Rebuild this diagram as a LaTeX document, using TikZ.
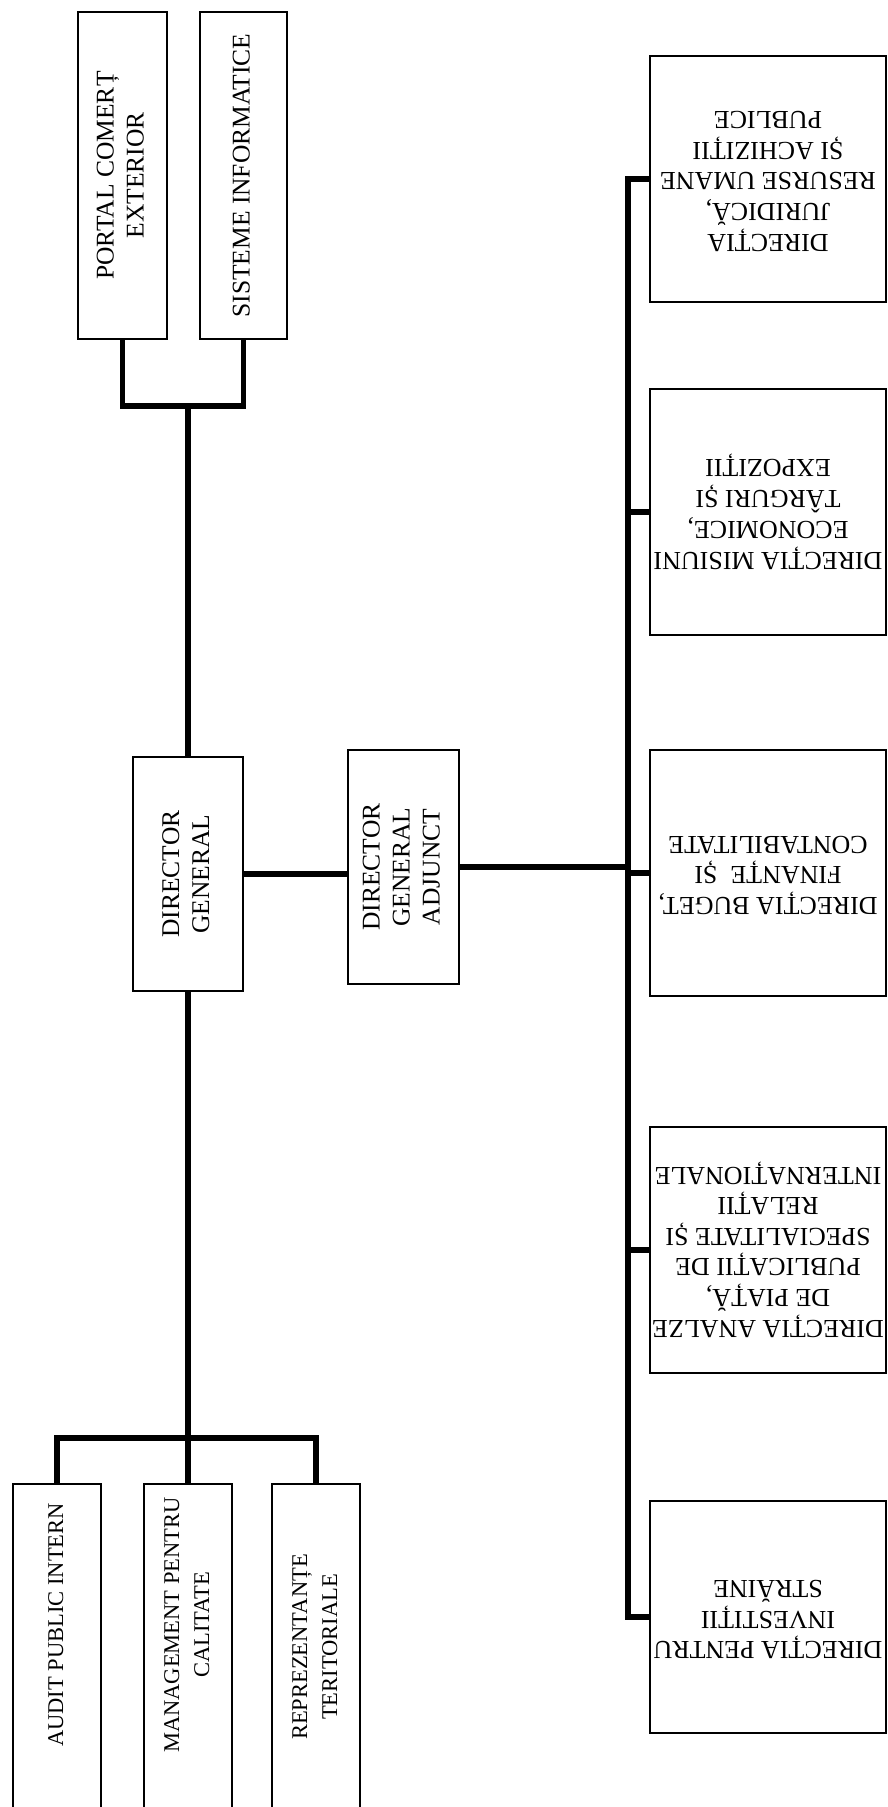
\documentclass[tikz,border=0pt]{standalone}
\usepackage{fontspec}
\setmainfont{Liberation Serif}
\tikzset{
    unit/.style ={
        shape=rectangle,
        draw=black,
        line width=1.6pt,
        inner sep=0pt,
        font=\fontsize{25.5}{30}\selectfont
    },
    side/.style ={
        unit,
        minimum width=88pt,
        minimum height=326pt,
        font=\fontsize{22.5}{30}\selectfont
    },
    dept/.style ={
        unit,
        minimum width=236pt,
        minimum height=246pt,
        font=\fontsize{26}{30.5}\selectfont
    },
    link/.style ={
        line width=5.5pt
    }
}
\newcommand{\vtext}[2][0pt]{\rotatebox{90}{\hspace*{#1}\begin{tabular}{@{}c@{}}#2\end{tabular}}}
\newcommand{\flipped}[1]{\rotatebox{180}{\begin{tabular}{@{}c@{}}#1\end{tabular}}}

\begin{document}
\begin{tikzpicture}[x=1pt,y=-1pt]
    \useasboundingbox (0,0) rectangle (887,1807);
    \node[unit,minimum width=89pt,minimum height=327pt] (portal) at(122.5,175.5) {\vtext{PORTAL COMERȚ\\EXTERIOR}};
    \node[unit,minimum width=87pt,minimum height=327pt] (sisteme) at(243.5,175.5) {\vtext{SISTEME INFORMATICE}};
    \node[unit,minimum width=110pt,minimum height=234pt] (dg) at(188,874) {\vtext{DIRECTOR\\GENERAL}};
    \node[unit,minimum width=111pt,minimum height=234pt] (dga) at(403.5,867) {\vtext{DIRECTOR\\GENERAL\\ADJUNCT}};
    \node[side] (audit) at(57,1647) {\vtext[44pt]{AUDIT PUBLIC INTERN}};
    \node[side] (mgmt) at(188,1647) {\vtext[44pt]{MANAGEMENT PENTRU\\CALITATE}};
    \node[side] (reprez) at(316,1647) {\vtext{REPREZENTANȚE\\TERITORIALE}};
    \node[dept] (juridic) at(768,179) {\flipped{DIRECȚIA\\JURIDICĂ,\\RESURSE UMANE\\ȘI ACHIZIȚII\\PUBLICE}};
    \node[dept] (misiuni) at(768,512) {\flipped{DIRECȚIA MISIUNI\\ECONOMICE,\\TÂRGURI ȘI\\EXPOZIȚII}};
    \node[dept] (buget) at(768,873) {\flipped{DIRECȚIA BUGET,\\FINANȚE\ \ ȘI\\CONTABILITATE}};
    \node[dept] (analize) at(768,1250) {\flipped{DIRECȚIA ANALZE\\DE PIAȚĂ,\\PUBLICAȚII DE\\SPECIALITATE ȘI\\RELAȚII\\INTERNAȚIONALE}};
    \node[dept,minimum height=232pt] (investitii) at(768,1617) {\flipped{DIRECȚIA PENTRU\\INVESTIȚII\\STRĂINE}};
    \coordinate (topjoin) at(188,406);
    \coordinate (lowjoin) at(188,1438);
    \coordinate (bus) at(628,0);
    % director general
    \draw[link] (portal.south) |- (topjoin) -| (sisteme.south);
    \draw[link] (topjoin) -- (dg.north);
    \draw[link] (dg.east) -- (dg.east -| dga.west);
    \draw[link] (dg.south) -- (lowjoin);
    \draw[link] (audit.north) |- (lowjoin) -| (reprez.north);
    \draw[link] (lowjoin) -- (mgmt.north);
    % directii
    \draw[link] (dga.east) -- (dga.east -| bus);
    \draw[link] (juridic.west) -| (bus |- investitii.west) -- (investitii.west);
    \foreach \d in {misiuni,buget,analize}
        \draw[link] (\d.west) -- (\d.west -| bus);
\end{tikzpicture}
\end{document}
